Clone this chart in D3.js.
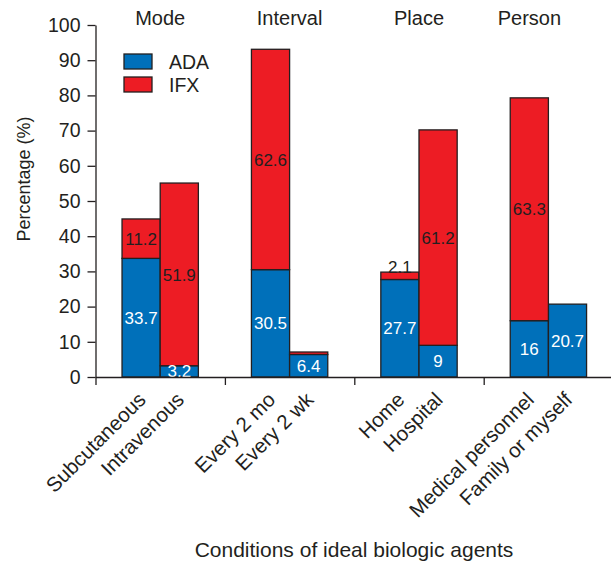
<!DOCTYPE html>
<html lang="en">
<head>
    <meta charset="UTF-8">
    <script src="https://d3js.org/d3.v7.min.js"></script>
    <style>
        body { margin: 0; background: #fff; }
        text { font-family: "Liberation Sans", Arial, sans-serif; fill: #231f20; }
    </style>
    <title>D3</title>
</head>
<body>
    <div class="canvas"></div>
    <script>
        // data
        const groups = ['Mode', 'Interval', 'Place', 'Person']
        const conditions = [
            ['Subcutaneous', 'Intravenous'],
            ['Every 2 mo', 'Every 2 wk'],
            ['Home', 'Hospital'],
            ['Medical personnel', 'Family or myself']
        ]
        const adaValues = [[33.7, 3.2], [30.5, 6.4], [27.7, 9], [16, 20.7]]
        const ifxValues = [[11.2, 51.9], [62.6, 0.7], [2.1, 61.2], [63.3, 0]]
        const yTicks = [0, 10, 20, 30, 40, 50, 60, 70, 80, 90, 100]
        const seriesNames = ['ADA', 'IFX']
        const colors = ['#0070ba', '#ed1c24']

        const areaWidth = 611
        const areaHeight = 565
        const svg = d3.select('.canvas')
            .append('svg')
            .attr('width', areaWidth)
            .attr('height', areaHeight)

        const [mt, ml, yBottom] = [25, 95.5, 377]
        const groupStep = 129.4

        const gx = d3.scaleBand()
            .domain(groups)
            .range([ml, ml + groupStep * groups.length])
        const inner = d3.scaleBand()
            .domain([0, 1])
            .range([0, gx.bandwidth()])
            .paddingInner(0)
            .paddingOuter(0.695)
        const y = d3.scaleLinear()
            .domain([0, 100])
            .range([yBottom, mt])

        // flat rows
        const rows = []
        groups.forEach((g, gi) => {
            conditions[gi].forEach((c, ci) => {
                rows.push({ group: g, idx: ci, name: c, ada: adaValues[gi][ci], ifx: ifxValues[gi][ci] })
            })
        })
        const barX = d => gx(d.group) + inner(d.idx)
        const bw = inner.bandwidth()

        const graph = svg.append('g')

        // ADA segments
        graph.selectAll('rect.ada').data(rows).enter()
            .append('rect')
            .attr('class', 'ada')
            .attr('x', barX)
            .attr('width', bw)
            .attr('y', d => y(d.ada))
            .attr('height', d => y(0) - y(d.ada))
            .attr('fill', colors[0])
            .attr('stroke', '#231f20')
            .attr('stroke-width', 1.3)

        // IFX segments
        graph.selectAll('rect.ifx').data(rows.filter(d => d.ifx > 0)).enter()
            .append('rect')
            .attr('class', 'ifx')
            .attr('x', barX)
            .attr('width', bw)
            .attr('y', d => y(d.ada + d.ifx))
            .attr('height', d => y(d.ada) - y(d.ada + d.ifx))
            .attr('fill', colors[1])
            .attr('stroke', '#231f20')
            .attr('stroke-width', 1.3)

        // value labels
        graph.selectAll('text.adaLbl').data(rows).enter()
            .append('text')
            .attr('x', d => barX(d) + bw / 2)
            .attr('y', d => y(d.ada / 2))
            .attr('dy', '0.36em')
            .attr('text-anchor', 'middle')
            .style('font-size', '17px')
            .style('fill', '#fff')
            .text(d => d.ada)

        graph.selectAll('text.ifxLbl').data(rows.filter(d => d.ifx >= 1)).enter()
            .append('text')
            .attr('x', d => barX(d) + bw / 2)
            .attr('y', d => d.ifx < 5 ? y(d.ada + d.ifx) + 1 : y(d.ada + d.ifx / 2))
            .attr('dy', d => d.ifx < 5 ? '0' : '0.36em')
            .attr('text-anchor', 'middle')
            .style('font-size', '17px')
            .text(d => d.ifx)

        // axes
        const xLine = d3.scaleLinear().domain([0, groups.length]).range(gx.range())
        const xAxisG = svg.append('g')
            .attr('transform', `translate(0,${yBottom})`)
            .call(d3.axisBottom(xLine).tickValues(d3.range(groups.length)).tickFormat('').tickSize(8).tickSizeOuter(0))
        const yAxisG = svg.append('g')
            .attr('transform', `translate(${ml},0)`)
            .call(d3.axisLeft(y).tickValues(yTicks).tickSize(8).tickPadding(7).tickSizeOuter(0))
        ;[xAxisG, yAxisG].forEach(a => {
            a.selectAll('path, line').attr('stroke', '#231f20').attr('stroke-width', 1.3)
        })
        yAxisG.selectAll('text').style('font-size', '19.5px').attr('fill', '#231f20')

        // category labels (rotated)
        svg.selectAll('text.cat').data(rows).enter()
            .append('text')
            .attr('text-anchor', 'end')
            .attr('transform', d => `translate(${barX(d) + bw / 2 + 6},${yBottom + 24}) rotate(-45)`)
            .style('font-size', '20.5px')
            .text(d => d.name)

        // group titles
        const titleShift = { Person: -19 }
        svg.selectAll('text.grp').data(groups).enter()
            .append('text')
            .attr('x', g => gx(g) + inner(1) + (titleShift[g] || 0))
            .attr('y', 25)
            .attr('text-anchor', 'middle')
            .style('font-size', '20px')
            .text(g => g)

        // legend
        const legend = svg.append('g').attr('transform', 'translate(124,54)')
        seriesNames.forEach((s, i) => {
            legend.append('rect')
                .attr('x', 0).attr('y', i * 23)
                .attr('width', 28).attr('height', 15)
                .attr('fill', colors[i])
                .attr('stroke', '#231f20').attr('stroke-width', 1.3)
            legend.append('text')
                .attr('x', 45).attr('y', i * 23 + 15)
                .style('font-size', '19.5px')
                .text(s)
        })

        // axis titles
        svg.append('text')
            .attr('x', 354).attr('y', 557)
            .attr('text-anchor', 'middle')
            .style('font-size', '21px')
            .text('Conditions of ideal biologic agents')
        svg.append('text')
            .attr('transform', 'translate(30,179) rotate(-90)')
            .attr('text-anchor', 'middle')
            .style('font-size', '18px')
            .text('Percentage (%)')
    </script>
</body>
</html>
